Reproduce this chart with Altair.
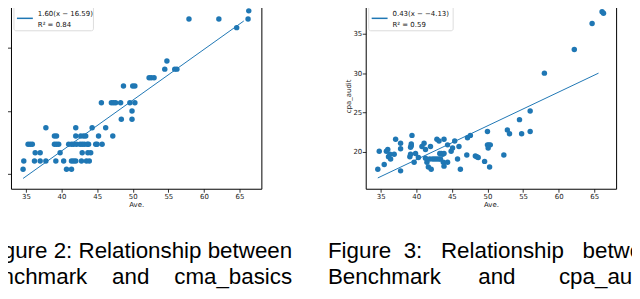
import altair as alt
import pandas as pd

# ---------------- data ----------------
# Left panel (Ave. vs cma_basics): cma_basics takes discrete levels
cma_levels = [31.6, 34.2, 36.8, 39.5, 42.1, 44.7, 47.4, 50.0, 52.6, 57.9, 60.5, 63.2, 65.8, 76.3, 79.0, 81.6]
cma_ave_by_level = [
    [34.6, 40.7, 41.4],
    [34.7, 36.2, 37.0, 37.8, 39.2, 40.3, 41.4, 41.7, 42.0, 42.8, 43.5, 43.9],
    [36.3, 37.0, 39.8, 42.9, 43.7, 44.1],
    [35.3, 35.6, 35.9, 39.0, 39.3, 39.6, 41.0, 41.4, 41.7, 42.1, 42.6, 42.9, 43.2, 43.6, 43.8, 44.8, 45.0, 45.7],
    [39.0, 39.3, 42.0, 42.7, 43.1, 43.4, 45.2, 47.2],
    [37.8, 42.0, 44.3, 46.2],
    [48.4, 49.9],
    [49.9],
    [45.6, 47.0, 47.3, 47.6, 48.3, 49.6, 50.3],
    [48.7, 50.0, 50.3],
    [52.3, 52.6, 53.0],
    [54.5, 55.9, 56.2],
    [54.8],
    [64.6],
    [57.9, 62.1, 66.2],
    [66.3],
]

# Right panel (Ave. vs cpa_audit)
cpa_ave = [34.6, 34.8, 35.5, 35.8, 36.0, 36.1, 36.3, 36.4, 36.9, 37.1, 37.8, 37.8, 37.8,
           39.1, 39.2, 39.3, 39.2, 39.3, 39.4, 39.9, 39.7, 40.3, 40.8, 41.1, 41.3, 41.3,
           41.5, 41.7, 42.0, 41.9, 42.3, 42.6, 42.9, 43.2, 43.4, 42.1, 42.9, 43.2, 43.3,
           43.5, 43.7, 43.9, 43.8, 43.9, 43.9, 44.4, 44.4, 44.9, 45.1, 45.4, 45.8, 46.0,
           46.2, 47.2, 47.6, 47.1, 48.3, 48.5, 48.7, 49.6, 50.0, 50.0, 50.2, 50.4, 50.1,
           50.3, 52.3, 52.8, 53.1, 54.5, 54.8, 56.0, 56.0, 58.0, 62.2, 64.7, 66.1, 66.3]
cpa_score = [17.8, 20.1, 18.4, 20.1, 20.3, 19.4, 19.7, 19.1, 19.7, 21.6, 21.1, 20.4, 17.6,
             19.4, 19.7, 20.8, 20.6, 21.0, 22.1, 19.8, 18.7, 19.3, 20.7, 21.1, 20.3, 19.2,
             18.7, 18.1, 20.7, 19.1, 19.1, 19.1, 19.1, 19.1, 19.1, 17.8, 21.6, 21.4, 19.8,
             19.8, 19.7, 19.8, 18.7, 21.6, 18.2, 20.9, 18.7, 20.1, 20.5, 21.4, 19.1, 20.7,
             17.8, 21.8, 22.1, 19.6, 19.5, 19.4, 19.3, 18.8, 22.6, 20.9, 20.9, 20.9, 20.5,
             18.1, 19.6, 22.8, 22.3, 24.1, 22.3, 25.2, 22.6, 30.0, 33.0, 36.3, 37.8, 37.6]

# fitted lines (end points)
fit_ave = [34.6, 65.6]
cma_fit = [28.7, 78.4]
cpa_fit = [16.7, 30.0]

x_ticks = [35, 40, 45, 50, 55, 60, 65]
cma_ticks = [30, 40, 50, 60, 70, 80]
cpa_ticks = [20, 25, 30, 35]

cma_legend = ["1.60(x \u2212 16.59)", "R\u00b2 = 0.84"]
cpa_legend = ["0.43(x \u2212 \u22124.13)", "R\u00b2 = 0.59"]

NB = "\u00a0"
cap_left = ["Figure 2: Relationship between",
            "Benchmark" + NB * 4 + "and" + NB * 4 + "cma_basics"]
cap_right = ["Figure" + NB + " 3:" + NB * 2 + " Relationship" + NB * 2 + " between",
             "Benchmark" + NB * 6 + "and" + NB * 7 + "cpa_audit"]

# ---------------- chart ----------------
W, H = 252, 187
BLUE = "#1f77b4"
FONT = "DejaVu Sans"
CAP_FONT = "Liberation Sans"
CAP_SIZE = 22.5

cma_rows = [(a, lv) for lv, aves in zip(cma_levels, cma_ave_by_level) for a in aves]
cma_df = pd.DataFrame(cma_rows, columns=["Ave", "score"])
cpa_df = pd.DataFrame({"Ave": cpa_ave, "score": cpa_score})
one = pd.DataFrame({"k": [0]})


def panel(df, fit_y, y_dom, y_vals, y_title, legend, box_w, captions, cap_x, cap_align, ext):
    xs = alt.Scale(domain=[32.9, 68.07], nice=False, zero=False)
    ys = alt.Scale(domain=y_dom, nice=False, zero=False)
    xax = alt.Axis(values=x_ticks, title="Ave.", format="d")
    if y_title:
        yax = alt.Axis(values=y_vals, title=y_title, format="d")
    else:
        yax = alt.Axis(values=y_vals, title=None, format="d")
    # invisible frame that fixes the panel's layout bounds
    frame = alt.Chart(one).mark_rect(opacity=0, strokeWidth=0).encode(
        x=alt.value(ext[0]), x2=alt.value(ext[1]), y=alt.value(-20), y2=alt.value(320)
    )
    pts = alt.Chart(df).mark_circle(size=30, color=BLUE, opacity=1).encode(
        x=alt.X("Ave:Q", scale=xs, axis=xax),
        y=alt.Y("score:Q", scale=ys, axis=yax),
    )
    fit = alt.Chart(pd.DataFrame({"Ave": fit_ave, "score": fit_y})).mark_line(
        color=BLUE, strokeWidth=1
    ).encode(x="Ave:Q", y="score:Q")
    box = alt.Chart(one).mark_rect(
        fill="white", stroke="#d0d0d0", strokeWidth=0.8, cornerRadius=2, opacity=0.9
    ).encode(x=alt.value(3), x2=alt.value(3 + box_w), y=alt.value(2), y2=alt.value(28))
    sample = alt.Chart(one).mark_rule(color=BLUE, strokeWidth=1.5).encode(
        x=alt.value(6), x2=alt.value(22), y=alt.value(15.5)
    )
    lt1 = alt.Chart(one).mark_text(
        text=legend[0], align="left", baseline="middle", font=FONT, fontSize=7, color="#111"
    ).encode(x=alt.value(27), y=alt.value(11))
    lt2 = alt.Chart(one).mark_text(
        text=legend[1], align="left", baseline="middle", font=FONT, fontSize=7, color="#111"
    ).encode(x=alt.value(27), y=alt.value(22))
    c1 = alt.Chart(one).mark_text(
        text=captions[0], align=cap_align, baseline="alphabetic", font=CAP_FONT,
        fontSize=CAP_SIZE, color="#000"
    ).encode(x=alt.value(cap_x), y=alt.value(257))
    c2 = alt.Chart(one).mark_text(
        text=captions[1], align=cap_align, baseline="alphabetic", font=CAP_FONT,
        fontSize=CAP_SIZE, color="#000"
    ).encode(x=alt.value(cap_x), y=alt.value(283))
    return alt.layer(frame, pts, fit, box, sample, lt1, lt2, c1, c2).properties(width=W, height=H)


left = panel(cma_df, cma_fit, [25.45, 84.1], cma_ticks, None, cma_legend, 80,
             cap_left, 283, "right", (-50, 285))
right = panel(cpa_df, cpa_fit, [15.33, 38.91], cpa_ticks, "cpa_audit", cpa_legend, 85,
              cap_right, -38, "left", (-60, 320))

chart = alt.hconcat(left, right, spacing=10).properties(
    padding={"left": -48, "top": -27, "right": -53, "bottom": -34}
).configure_axis(
    domain=False, grid=False, tickColor="#000", tickSize=3.5, tickWidth=0.8,
    labelFont=FONT, labelFontSize=7, labelColor="#222", labelPadding=0.5,
    titleFont=FONT, titleFontSize=7, titleFontWeight="normal", titleColor="#222", titlePadding=1,
).configure_view(stroke="#000", strokeWidth=1)

chart.save("out.html", embed_options={"renderer": "svg", "actions": False})
